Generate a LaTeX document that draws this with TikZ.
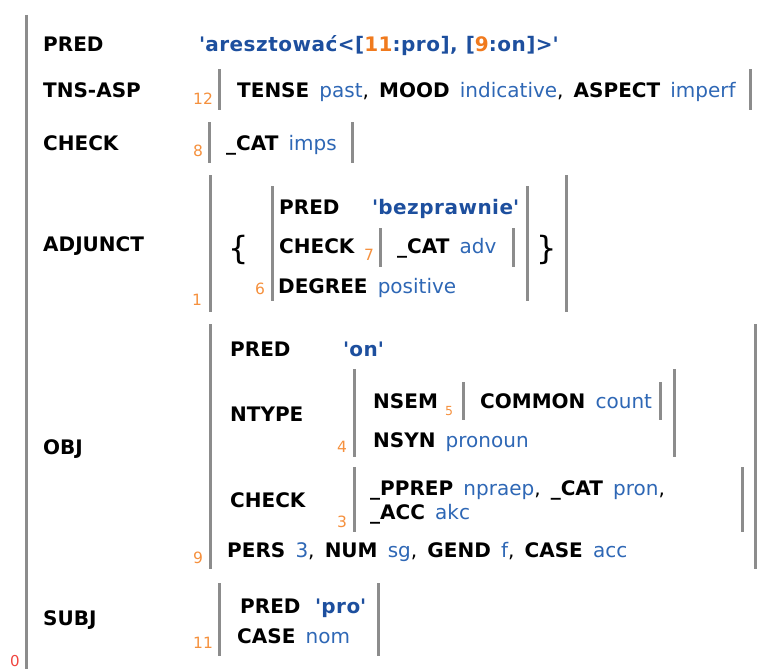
\documentclass[tikz,border=0pt]{standalone}
\usepackage{fontspec}
\setmainfont{DejaVu Sans}[WordSpace=1.6]
\usepackage{tikz}
\usetikzlibrary{positioning}
\definecolor{idxorange}{HTML}{F5903D}
\definecolor{predorange}{HTML}{F07A1E}
\definecolor{valblue}{HTML}{2E67B5}
\definecolor{predblue}{HTML}{1D4F9E}
\definecolor{bargray}{HTML}{8C8C8C}
\definecolor{rootred}{HTML}{F0453F}
\newcommand{\att}[1]{\textbf{#1}}
\newcommand{\val}[1]{\textcolor{valblue}{#1}}
\newcommand{\pval}[1]{\textcolor{predblue}{\textbf{\addfontfeatures{LetterSpace=2.5}\textquotesingle#1\textquotesingle}}}
\newcommand{\pidx}[1]{\textcolor{predorange}{#1}}

\begin{document}
\begin{tikzpicture}[x=1pt,y=-1pt,
  lbl/.style={anchor=base west, inner sep=0pt, font=\fontsize{20}{24}\selectfont},
  idx/.style={anchor=base west, inner sep=0pt, font=\fontsize{15.5}{18}\selectfont, text=idxorange},
  brace/.style={anchor=base west, inner sep=0pt, font=\fontsize{32}{36}\selectfont},
  bar/.style={draw=bargray, line width=3pt}
]
\useasboundingbox (0,0) rectangle (762,669);
% outer f-structure
\draw[bar] (26,15) -- (26,669);
\node[anchor=base west, inner sep=0pt, font=\fontsize{15}{18}\selectfont, text=rootred] (root) at (10,666) {0};
\node[lbl] (pred) at (43,52) {\att{PRED}};
\node[lbl] (predval) at (199,52) {\pval{aresztować<[\pidx{11}:pro],\hspace{8pt}[\pidx{9}:on]>}};
% TNS-ASP
\node[lbl] (tns) at (43,97) {\att{TNS-ASP}};
\node[idx] (tnsidx) at (193,104) {12};
\draw[bar] (219,69) -- (219,110);
\node[lbl] (tnsval) at (237,97) {\att{TENSE} \val{past}, \att{MOOD} \val{indicative}, \att{ASPECT} \val{imperf}};
\draw[bar] (750,69) -- (750,110);
% CHECK
\node[lbl] (chk) at (43,150) {\att{CHECK}};
\node[idx] (chkidx) at (193,156) {8};
\draw[bar] (209,122) -- (209,163);
\node[lbl] (chkval) at (226,150) {\att{\_CAT} \val{imps}};
\draw[bar] (352,122) -- (352,163);
% ADJUNCT
\node[lbl] (adj) at (43,251) {\att{ADJUNCT}};
\node[idx] (adjidx) at (192,305) {1};
\draw[bar] (210,175) -- (210,312);
\draw[bar] (566,175) -- (566,312);
\node[brace] (lbrace) at (228,259) {\{};
\node[brace] (rbrace) at (536,259) {\}};
\draw[bar] (272,186) -- (272,301);
\draw[bar] (527,186) -- (527,301);
\node[idx] (adjidx6) at (255,294) {6};
\node[lbl] (apred) at (279,214) {\att{PRED}};
\node[lbl] (apredval) at (372,214) {\pval{bezprawnie}};
\node[lbl] (achk) at (279,253) {\att{CHECK}};
\node[idx] (achkidx) at (364,260) {7};
\draw[bar] (380,228) -- (380,267);
\node[lbl] (achkval) at (397,253) {\att{\_CAT} \val{adv}};
\draw[bar] (513,228) -- (513,267);
\node[lbl] (adeg) at (278,293) {\att{DEGREE} \val{positive}};
% OBJ
\node[lbl] (obj) at (43,454) {\att{OBJ}};
\node[idx] (objidx) at (193,563) {9};
\draw[bar] (210,324) -- (210,569);
\draw[bar] (755,324) -- (755,569);
\node[lbl] (opred) at (230,356) {\att{PRED}};
\node[lbl] (opredval) at (343,356) {\pval{on}};
\node[lbl] (ontype) at (230,421) {\att{NTYPE}};
\node[idx] (ontypeidx) at (337,452) {4};
\draw[bar] (354,369) -- (354,457);
\draw[bar] (674,369) -- (674,457);
\node[lbl] (nsem) at (373,408) {\att{NSEM}};
\node[idx, font=\fontsize{12.5}{14}\selectfont] (nsemidx) at (445,415) {5};
\draw[bar] (463,382) -- (463,420);
\node[lbl] (nsemval) at (480,408) {\att{COMMON} \val{count}};
\draw[bar] (660,382) -- (660,420);
\node[lbl] (nsyn) at (373,447) {\att{NSYN} \val{pronoun}};
\node[lbl] (ochk) at (230,507) {\att{CHECK}};
\node[idx] (ochkidx) at (337,527) {3};
\draw[bar] (354,467) -- (354,532);
\draw[bar] (742,467) -- (742,532);
\node[lbl] (ochkval) at (370,495) {\att{\_PPREP} \val{npraep}, \att{\_CAT} \val{pron},};
\node[lbl] (ochkacc) at (370,519) {\att{\_ACC} \val{akc}};
\node[lbl] (opers) at (227,557) {\att{PERS} \val{3}, \att{NUM} \val{sg}, \att{GEND} \val{f}, \att{CASE} \val{acc}};
% SUBJ
\node[lbl] (subj) at (43,625) {\att{SUBJ}};
\node[idx] (subjidx) at (193,648) {11};
\draw[bar] (219,583) -- (219,656);
\draw[bar] (378,583) -- (378,656);
\node[lbl] (spred) at (240,613) {\att{PRED}};
\node[lbl] (spredval) at (315,613) {\pval{pro}};
\node[lbl] (scase) at (237,643) {\att{CASE} \val{nom}};
\end{tikzpicture}
\end{document}
